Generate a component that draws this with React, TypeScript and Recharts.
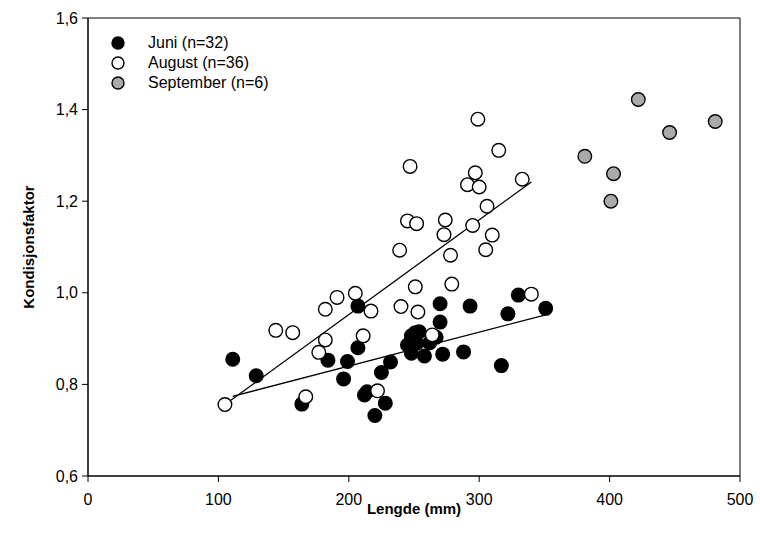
import React from 'react';
import { ScatterChart, Scatter, XAxis, YAxis, ReferenceLine, ReferenceArea, Legend } from 'recharts';

const xTicks = [0, 100, 200, 300, 400, 500];
const yTicks = [0.6, 0.8, 1.0, 1.2, 1.4, 1.6];

// Juni (n=32)
const juniLengde = [111, 129, 164, 184, 199, 196, 207, 207, 214, 212, 220, 228, 225, 232, 245, 248, 251, 254, 248, 258, 262, 267, 270, 270, 272, 288, 293, 317, 322, 330, 351, 252];
const juniK = [0.855, 0.819, 0.757, 0.853, 0.85, 0.812, 0.971, 0.88, 0.784, 0.777, 0.732, 0.759, 0.826, 0.849, 0.886, 0.906, 0.913, 0.915, 0.868, 0.862, 0.891, 0.903, 0.976, 0.936, 0.866, 0.871, 0.971, 0.841, 0.954, 0.995, 0.966, 0.89];

// August (n=36)
const augLengde = [105, 144, 157, 167, 177, 182, 182, 191, 205, 217, 211, 222, 239, 240, 245, 247, 252, 251, 253, 264, 274, 273, 278, 279, 291, 297, 300, 299, 295, 306, 310, 305, 315, 333, 340];
const augK = [0.756, 0.918, 0.913, 0.773, 0.87, 0.897, 0.964, 0.99, 0.999, 0.96, 0.906, 0.786, 1.093, 0.97, 1.157, 1.276, 1.151, 1.013, 0.958, 0.908, 1.159, 1.127, 1.082, 1.019, 1.236, 1.262, 1.231, 1.379, 1.147, 1.189, 1.126, 1.094, 1.311, 1.248, 0.997];

// September (n=6)
const sepLengde = [422, 481, 446, 381, 403, 401];
const sepK = [1.422, 1.374, 1.35, 1.298, 1.26, 1.2];

// regression lines (start / end)
const juniFit = [{ x: 111, y: 0.774 }, { x: 351, y: 0.952 }];
const augFit = [{ x: 105, y: 0.756 }, { x: 340, y: 1.242 }];

const zip = (xs: number[], ys: number[]) => xs.map((x, i) => ({ x, y: ys[i] }));

const series = [
  { name: 'Juni (n=32)', fill: '#000000', data: zip(juniLengde, juniK) },
  { name: 'August (n=36)', fill: '#ffffff', data: zip(augLengde, augK) },
  { name: 'September (n=6)', fill: '#aaaaaa', data: zip(sepLengde, sepK) },
];

const FONT = '"Liberation Sans", Arial, sans-serif';

const dot = (fill: string) => (props: any) => (
  <circle cx={props.cx} cy={props.cy} r={6.8} fill={fill} stroke="#000" strokeWidth={1.4} />
);

const LegendBox = () => (
  <div style={{ fontFamily: FONT, fontSize: 16, color: '#000' }}>
    {series.map(s => (
      <div key={s.name} style={{ display: 'flex', alignItems: 'center', height: 20 }}>
        <svg width={16} height={16} style={{ marginRight: 22 }}>
          <circle cx={8} cy={8} r={6} fill={s.fill} stroke="#000" strokeWidth={1.4} />
        </svg>
        <span>{s.name}</span>
      </div>
    ))}
  </div>
);

const YLabel = () => (
  <text x={28} y={247} transform="rotate(-90 28 247)" textAnchor="middle" dominantBaseline="central"
    style={{ fontFamily: FONT, fontSize: 15, fontWeight: 'bold', fill: '#000' }}>
    Kondisjonsfaktor
  </text>
);

export default function App() {
  const tick = { fill: '#000', fontSize: 16, fontFamily: FONT };
  return (
    <div>
      <style>{`body{margin:0;background:#fff}`}</style>
      <ScatterChart width={760} height={551} margin={{ top: 18, right: 20, bottom: 0, left: 0 }}>
        <XAxis type="number" dataKey="x" domain={[0, 500]} ticks={xTicks} height={75}
          tick={{ ...tick, dy: 4 }} tickSize={6} tickMargin={8} stroke="#000" allowDataOverflow
          label={{ value: 'Lengde (mm)', position: 'insideBottom', offset: 37, style: { fontFamily: FONT, fontSize: 15, fontWeight: 'bold', fill: '#000' } }} />
        <YAxis type="number" dataKey="y" domain={[0.6, 1.6]} ticks={yTicks} width={88}
          tick={tick} tickSize={6} tickMargin={4} stroke="#000" allowDataOverflow
          tickFormatter={(v: number) => v.toFixed(1).replace('.', ',')}
          label={{ content: () => <YLabel /> }} />
        <ReferenceArea x1={0} x2={500} y1={0.6} y2={1.6} fill="none" stroke="#000" strokeWidth={1} />
        <ReferenceLine segment={augFit} stroke="#000" strokeWidth={1.3} />
        <ReferenceLine segment={juniFit} stroke="#000" strokeWidth={1.3} />
        {series.map(s => (
          <Scatter key={s.name} name={s.name} data={s.data} fill={s.fill} shape={dot(s.fill)} isAnimationActive={false} />
        ))}
        <Legend layout="vertical" align="center" verticalAlign="middle" content={() => <LegendBox />}
          wrapperStyle={{ top: 33, left: 110, width: 'auto', height: 'auto' }} />
      </ScatterChart>
    </div>
  );
}
